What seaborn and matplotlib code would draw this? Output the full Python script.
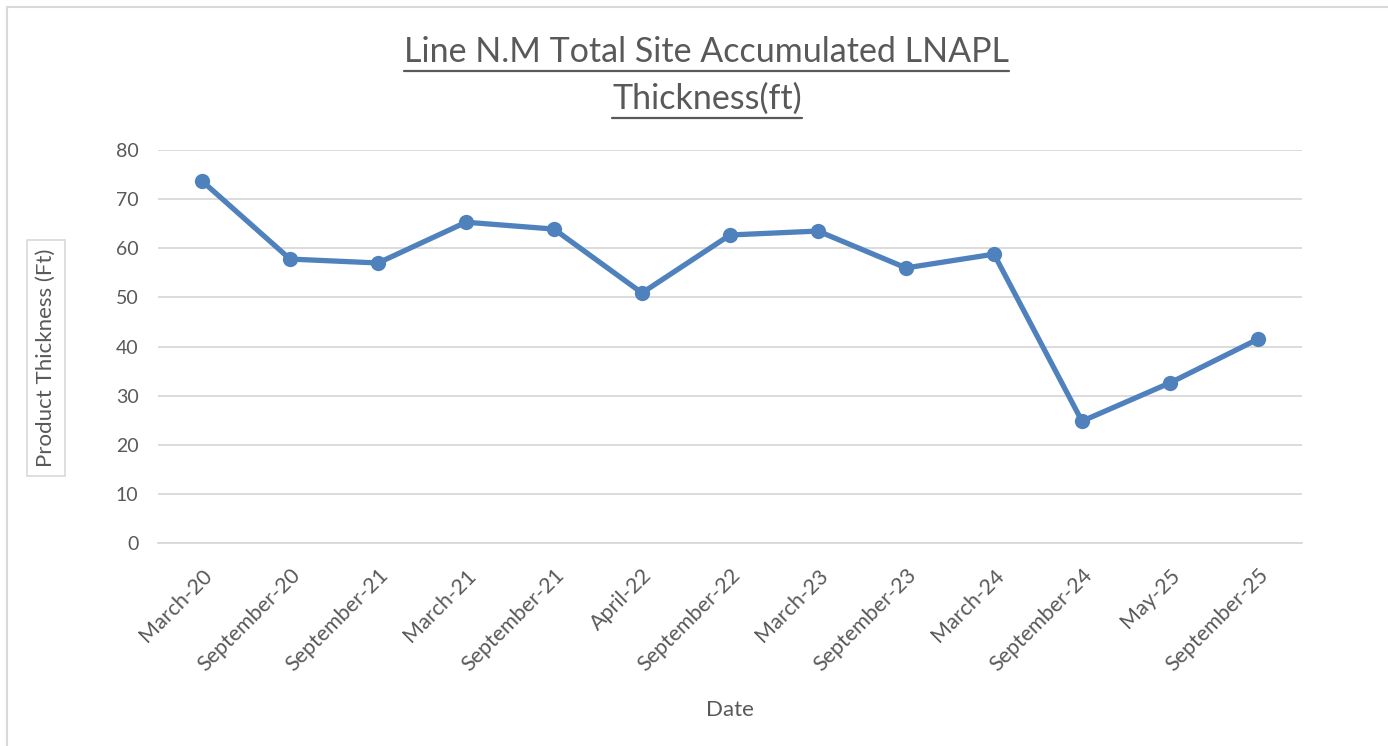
import matplotlib.pyplot as plt
import matplotlib.ticker as ticker
from matplotlib.lines import Line2D
from matplotlib.patches import Rectangle
import seaborn as sns

#%% data
dates = ['March-20', 'September-20', 'September-21', 'March-21', 'September-21',
         'April-22', 'September-22', 'March-23', 'September-23', 'March-24',
         'September-24', 'May-25', 'September-25']
thickness = [73.7, 57.8, 57.0, 65.3, 63.9, 50.9, 62.7, 63.5, 56.0, 58.8, 24.8, 32.6, 41.5]
positions = list(range(len(dates)))

#%%
sns.set_style('white')
plt.rcParams['font.family'] = ['Lato', 'DejaVu Sans']

grey_txt = '#595959'
grid_c = '#D9D9D9'
blue = '#4F81BD'

fig = plt.figure(figsize=(13.88, 7.46), dpi=100, facecolor='w')
ax = fig.add_axes([158/1388, 1 - 543/746, (1302-158)/1388, (543-150)/746])

sns.lineplot(x=positions, y=thickness, ax=ax, color=blue, linewidth=3.8,
             marker='o', markersize=11, markeredgewidth=0, solid_capstyle='round')

ax.set_xlim(-0.5, len(dates) - 0.5)
ax.set_ylim(0, 80)
ax.yaxis.set_major_locator(ticker.MultipleLocator(10))
ax.grid(True, axis='y', color=grid_c, linewidth=1.3)
ax.set_axisbelow(True)

for s in ['top', 'right', 'left']:
    ax.spines[s].set_visible(False)
ax.spines['bottom'].set_color(grid_c)
ax.spines['bottom'].set_linewidth(1.3)

ax.set_xticks(positions)
ax.set_xticklabels(dates, rotation=45, ha='right', rotation_mode='anchor',
                   fontsize=15.5, color=grey_txt)
ax.set_xticks([p - 0.5 for p in positions] + [len(dates) - 0.5], minor=True)
ax.tick_params(axis='x', which='major', length=0, pad=16)
ax.tick_params(axis='x', which='minor', length=9, width=1.3, color=grid_c, direction='out')
ax.tick_params(axis='y', length=0, labelsize=14, labelcolor=grey_txt, pad=14)

ax.set_xlabel('Date', fontsize=16, color=grey_txt, labelpad=18)
ax.set_ylabel('')

# y label in a small box, as in the spreadsheet chart
fig.text(46/1388, 1 - 358/746, 'Product Thickness (Ft)', rotation=90, ha='center', va='center',
         fontsize=16, color=grey_txt,
         bbox=dict(boxstyle='square,pad=0.4', fc='w', ec=grid_c, lw=1.2))

# underlined two-line title
title_lines = ['Line N.M Total Site Accumulated LNAPL', 'Thickness(ft)']
title_y = [52, 99]
fig.canvas.draw()
renderer = fig.canvas.get_renderer()
for line, ypix in zip(title_lines, title_y):
    t = fig.text(707/1388, 1 - ypix/746, line, ha='center', va='center',
                 fontsize=24.5, color=grey_txt)
    bb = t.get_window_extent(renderer=renderer).transformed(fig.transFigure.inverted())
    uy = bb.y0 - 3/746
    fig.add_artist(Line2D([bb.x0, bb.x1], [uy, uy], transform=fig.transFigure,
                          color=grey_txt, linewidth=1.6))

# outer chart frame
fig.add_artist(Rectangle((7/1388, -0.01), 1.1, 1 - 7/746 + 0.01, transform=fig.transFigure,
                         fill=False, ec=grid_c, lw=1.5))

fig.savefig('out.png', dpi=100)
